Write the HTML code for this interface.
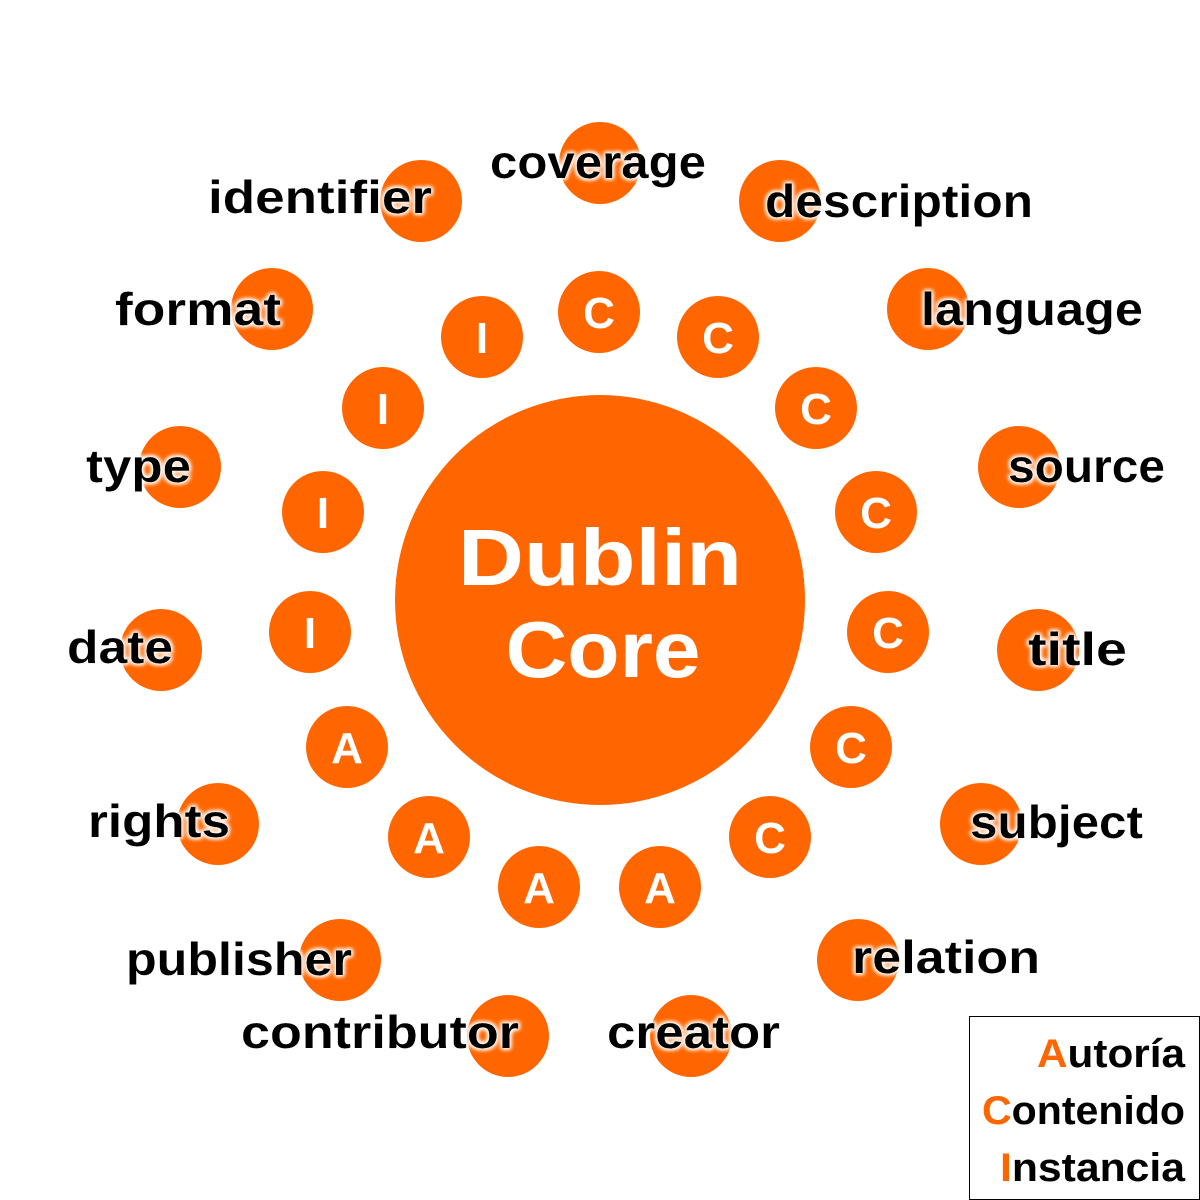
<!DOCTYPE html>
<html><head><meta charset="utf-8"><style>html,body{margin:0;padding:0;background:#fff}svg{display:block}</style></head>
<body>
<svg id="c" width="1200" height="1200" viewBox="0 0 1200 1200" xmlns="http://www.w3.org/2000/svg">
<defs>
<filter id="halo" x="-10%" y="-30%" width="120%" height="160%">
<feMorphology in="SourceAlpha" operator="dilate" radius="1" result="d"/>
<feGaussianBlur in="d" stdDeviation="2" result="b"/>
<feFlood flood-color="#fff"/>
<feComposite in2="b" operator="in" result="w"/>
<feMerge><feMergeNode in="w"/><feMergeNode in="w"/><feMergeNode in="SourceGraphic"/></feMerge>
</filter>
</defs>
<circle cx="600" cy="600" r="205" fill="#ff6600"/>
<g font-family="'Liberation Sans', sans-serif" font-weight="bold" fill="#fff" text-anchor="middle" font-size="80">
<text x="600" y="585" textLength="284" lengthAdjust="spacingAndGlyphs">Dublin</text>
<text x="603" y="677" textLength="195" lengthAdjust="spacingAndGlyphs">Core</text>
</g>
<g id="inner"></g>
<g id="outer"></g>
<g id="labels"></g>
<g>
<rect x="969.5" y="1016.5" width="230" height="183" fill="#fff" stroke="#000" stroke-width="1"/>
<g font-family="'Liberation Sans', sans-serif" font-weight="bold" font-size="40" fill="#000">
<text x="1037" y="1067" textLength="148" lengthAdjust="spacingAndGlyphs"><tspan fill="#ff6600">A</tspan>utoría</text>
<text x="982" y="1124" textLength="203" lengthAdjust="spacingAndGlyphs"><tspan fill="#ff6600">C</tspan>ontenido</text>
<text x="1000" y="1181" textLength="185" lengthAdjust="spacingAndGlyphs"><tspan fill="#ff6600">I</tspan>nstancia</text>
</g>
</g>
</svg>
<script>
const innerLetters=["C","C","C","C","C","C","C","A","A","A","A","I","I","I","I"];
const innerX=[599,718,816,876,888,851,770,660,539,429,347,310,323,383,482];
const innerY=[312,337,408,512,632,747,837,887,887,837,747,632,512,408,337];
const outerNames=["coverage","description","language","source","title","subject","relation","creator","contributor","publisher","rights","date","type","format","identifier"];
const outerX=[600,780,928,1019,1038,981,858,691,508,340,218,161,180,272,421];
const outerY=[163,201,309,467,650,824,960,1036,1036,960,824,650,467,309,201];
const labelLeft=[490,765,921,1008,1028,970,852,607,241,126,88,67,86,115,208];
const labelRight=[706,1033,1143,1165,1127,1143,1040,780,519,352,230,173,191,281,432];
const labelBase=[178,217,325,482,665,838,973,1048,1048,975,837,663,482,325,213];
const NS="http://www.w3.org/2000/svg";
const gi=document.getElementById('inner'),go=document.getElementById('outer'),gl=document.getElementById('labels');
innerLetters.forEach((l,i)=>{
 const c=document.createElementNS(NS,'circle');
 c.setAttribute('cx',innerX[i]);c.setAttribute('cy',innerY[i]);c.setAttribute('r',41);c.setAttribute('fill','#ff6600');
 
 
 gi.appendChild(c);
 const t=document.createElementNS(NS,'text');
 t.setAttribute('x',innerX[i]);t.setAttribute('y',innerY[i]+16);
 t.setAttribute('text-anchor','middle');t.setAttribute('fill','#fff');
 t.setAttribute('font-family',"'Liberation Sans', sans-serif");t.setAttribute('font-weight','bold');t.setAttribute('font-size','44');
 t.textContent=l;
 
 
 gi.appendChild(t);
});
outerNames.forEach((n,i)=>{
 const c=document.createElementNS(NS,'circle');
 c.setAttribute('cx',outerX[i]);c.setAttribute('cy',outerY[i]);c.setAttribute('r',41);c.setAttribute('fill','#ff6600');
 
 
 go.appendChild(c);
 const t=document.createElementNS(NS,'text');
 t.setAttribute('x',labelLeft[i]);t.setAttribute('y',labelBase[i]);
 t.setAttribute('textLength',labelRight[i]-labelLeft[i]);t.setAttribute('lengthAdjust','spacingAndGlyphs');
 t.setAttribute('fill','#000');t.setAttribute('filter','url(#halo)');
 t.setAttribute('font-family',"'Liberation Sans', sans-serif");t.setAttribute('font-weight','bold');t.setAttribute('font-size','46');
 t.textContent=n;
 
 
 gl.appendChild(t);
});
</script>
</body></html>
